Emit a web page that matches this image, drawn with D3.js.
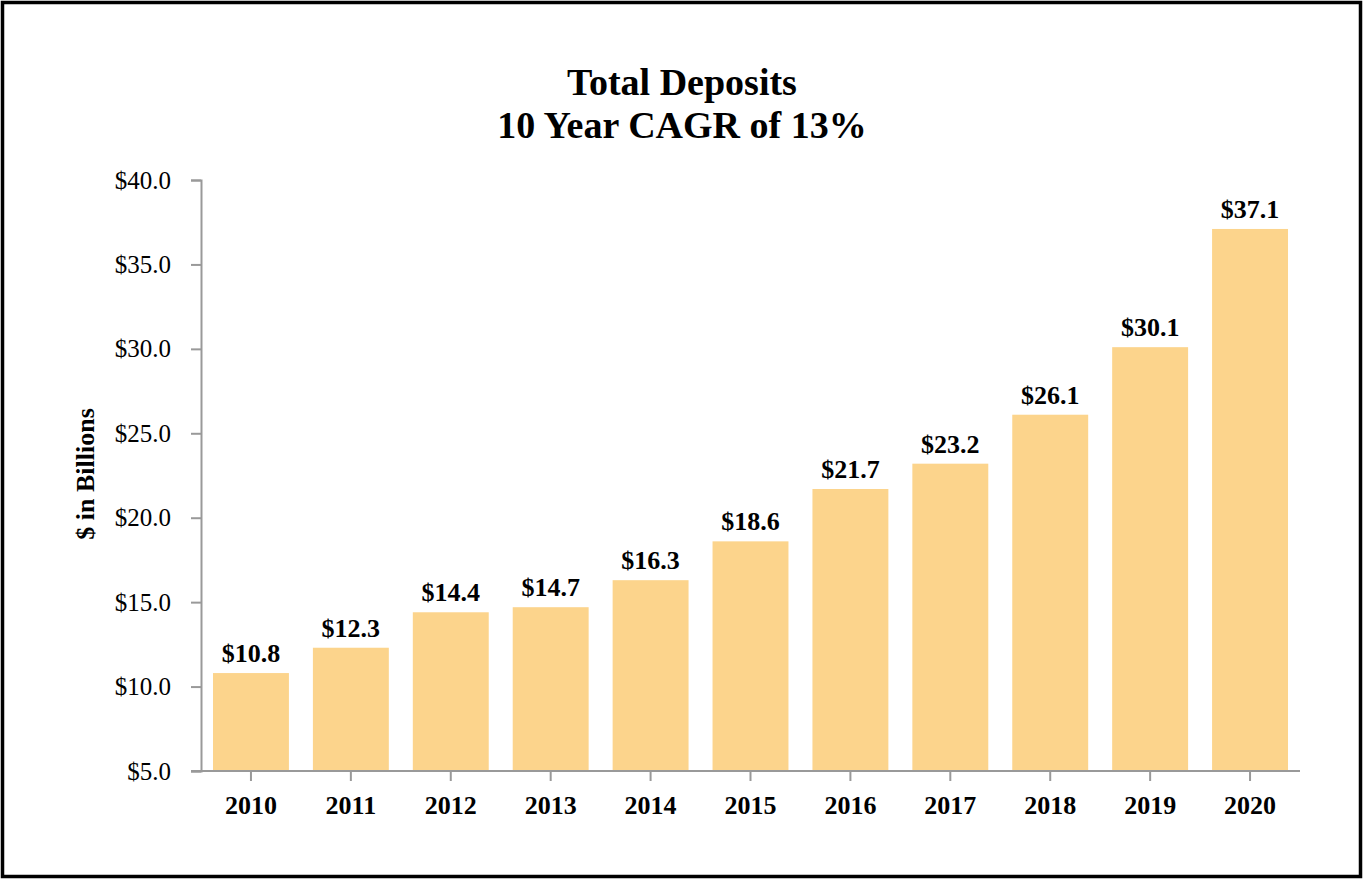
<!DOCTYPE html>
<html>
<head>
<script src="https://d3js.org/d3.v7.min.js"></script>
<style>
  body { margin: 0; background: #fff; }
  text { font-family: "Liberation Serif", "Times New Roman", serif; }
</style>
</head>
<body>
<script>
  var years = ["2010", "2011", "2012", "2013", "2014", "2015", "2016", "2017", "2018", "2019", "2020"];
  var deposits = [10.8, 12.3, 14.4, 14.7, 16.3, 18.6, 21.7, 23.2, 26.1, 30.1, 37.1];
  var yTicks = [5, 10, 15, 20, 25, 30, 35, 40];
  var titleLines = ["Total Deposits", "10 Year CAGR of 13%"];

  var width = 1364, height = 880;
  var margin = { top: 180, right: 64, bottom: 109, left: 201 };

  var svg = d3.select("body").append("svg")
    .attr("width", width)
    .attr("height", height);

  // outer frame
  svg.append("rect")
    .attr("x", 2.5).attr("y", 2.5)
    .attr("width", width - 6).attr("height", height - 6)
    .attr("fill", "#fff")
    .attr("stroke", "#000")
    .attr("stroke-width", 3.5);

  var x = d3.scaleBand()
    .domain(years)
    .range([margin.left, width - margin.right])
    .paddingInner(0.24)
    .paddingOuter(0.12);

  var y = d3.scaleLinear()
    .domain([5, 40])
    .range([height - margin.bottom, margin.top]);

  // title
  svg.append("g").selectAll("text")
    .data(titleLines)
    .enter().append("text")
    .attr("x", 682)
    .attr("y", function(d, i) { return 95 + i * 43; })
    .attr("text-anchor", "middle")
    .attr("font-size", 38)
    .attr("font-weight", "bold")
    .text(function(d) { return d; });

  // bars
  svg.append("g").selectAll("rect")
    .data(deposits)
    .enter().append("rect")
    .attr("x", function(d, i) { return x(years[i]); })
    .attr("y", function(d) { return y(d); })
    .attr("width", x.bandwidth())
    .attr("height", function(d) { return y(5) - y(d); })
    .attr("fill", "#fcd48c");

  // value labels
  svg.append("g").selectAll("text")
    .data(deposits)
    .enter().append("text")
    .attr("x", function(d, i) { return x(years[i]) + x.bandwidth() / 2; })
    .attr("y", function(d) { return y(d) - 11; })
    .attr("text-anchor", "middle")
    .attr("font-size", 26)
    .attr("font-weight", "bold")
    .text(function(d) { return "$" + d.toFixed(1); });

  // y axis
  var yAxis = svg.append("g")
    .attr("transform", "translate(" + margin.left + ",0)")
    .call(d3.axisLeft(y).tickValues(yTicks).tickSize(10).tickPadding(20)
      .tickFormat(function(d) { return "$" + d.toFixed(1); }));
  yAxis.select(".domain").attr("stroke", "#999").attr("stroke-width", 2);
  yAxis.selectAll(".tick line").attr("stroke", "#999").attr("stroke-width", 2);
  yAxis.selectAll(".tick text")
    .attr("font-size", 25)
    .attr("fill", "#000")
    .style("font-family", "'Liberation Serif', serif");

  // x axis
  var xAxis = svg.append("g")
    .attr("transform", "translate(0," + (height - margin.bottom) + ")")
    .call(d3.axisBottom(x).tickSize(10).tickSizeOuter(0).tickPadding(12));
  xAxis.select(".domain").attr("stroke", "#999").attr("stroke-width", 2)
    .attr("d", "M" + (margin.left - 10) + ",0H" + (width - margin.right));
  xAxis.selectAll(".tick line").attr("stroke", "#999").attr("stroke-width", 2);
  xAxis.selectAll(".tick text")
    .attr("font-size", 26)
    .attr("font-weight", "bold")
    .attr("fill", "#000")
    .attr("dy", "0.8em")
    .style("font-family", "'Liberation Serif', serif");

  // y axis title
  svg.append("text")
    .attr("transform", "translate(94,474) rotate(-90)")
    .attr("text-anchor", "middle")
    .attr("font-size", 26)
    .attr("font-weight", "bold")
    .text("$ in Billions");
</script>
</body>
</html>
